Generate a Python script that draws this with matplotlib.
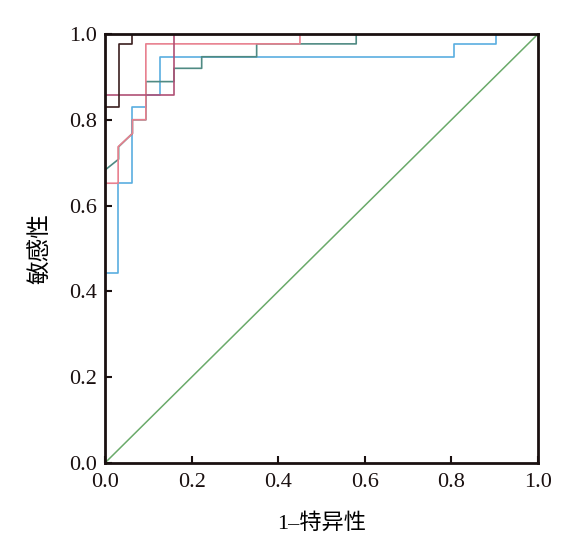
import matplotlib
matplotlib.use("Agg")
import matplotlib.pyplot as plt

plt.rcParams['font.family'] = ['Liberation Serif', 'Noto Sans CJK SC', 'DejaVu Sans']
plt.rcParams['axes.unicode_minus'] = False

# ROC curves (false positive rate, true positive rate)
fpr_blue = [0, 0, 0.030, 0.030, 0.063, 0.063, 0.094, 0.094, 0.127, 0.127, 0.806, 0.806, 0.903, 0.903, 1.0]
tpr_blue = [0, 0.443, 0.443, 0.653, 0.653, 0.830, 0.830, 0.858, 0.858, 0.947, 0.947, 0.977, 0.977, 1.0, 1.0]

fpr_teal = [0, 0, 0.031, 0.031, 0.063, 0.063, 0.094, 0.094, 0.159, 0.159, 0.223, 0.223, 0.350, 0.350, 0.580, 0.580, 1.0]
tpr_teal = [0, 0.683, 0.708, 0.737, 0.768, 0.800, 0.800, 0.889, 0.889, 0.920, 0.920, 0.947, 0.947, 0.977, 0.977, 1.0, 1.0]

fpr_pink = [0, 0, 0.030, 0.030, 0.063, 0.063, 0.094, 0.094, 0.450, 0.450, 1.0]
tpr_pink = [0, 0.652, 0.652, 0.737, 0.768, 0.800, 0.800, 0.977, 0.977, 1.0, 1.0]

fpr_mauve = [0, 0, 0.159, 0.159, 1.0]
tpr_mauve = [0, 0.858, 0.858, 1.0, 1.0]

fpr_dark = [0, 0, 0.031, 0.031, 0.063, 0.063, 1.0]
tpr_dark = [0, 0.829, 0.829, 0.977, 0.977, 1.0, 1.0]

ref_line = [0, 1]

fig = plt.figure(figsize=(5.81, 5.40), dpi=100)
ax = fig.add_axes([0.181, 0.143, 0.745, 0.794])

ax.plot(ref_line, ref_line, color='#6aaa6a', lw=1.1)
ax.plot(fpr_blue, tpr_blue, color='#5aaee0', lw=1.2)
ax.plot(fpr_teal, tpr_teal, color='#4f8a83', lw=1.2)
ax.plot(fpr_pink, tpr_pink, color='#e8808f', lw=1.2)
ax.plot(fpr_mauve, tpr_mauve, color='#b05075', lw=1.2)
ax.plot(fpr_dark, tpr_dark, color='#3b1f1f', lw=1.2)

ax.set_xlim(0, 1)
ax.set_ylim(0, 1)
ticks = [0.0, 0.2, 0.4, 0.6, 0.8, 1.0]
ax.set_xticks(ticks)
ax.set_yticks(ticks)
ax.set_xticklabels([f"{t:.1f}" for t in ticks])
ax.set_yticklabels([f"{t:.1f}" for t in ticks])
ax.tick_params(direction='in', length=5, width=1.5, labelsize=16, colors='#1a1010')
ax.tick_params(axis='x', pad=7)
ax.tick_params(axis='y', pad=6)
for s in ax.spines.values():
    s.set_linewidth(2)
    s.set_color('#1a1010')

ax.set_xlabel("1\u2013特异性", fontsize=16, labelpad=16)
ax.set_ylabel("敏感性", fontsize=17, labelpad=12)

fig.savefig("out.png", dpi=100)
